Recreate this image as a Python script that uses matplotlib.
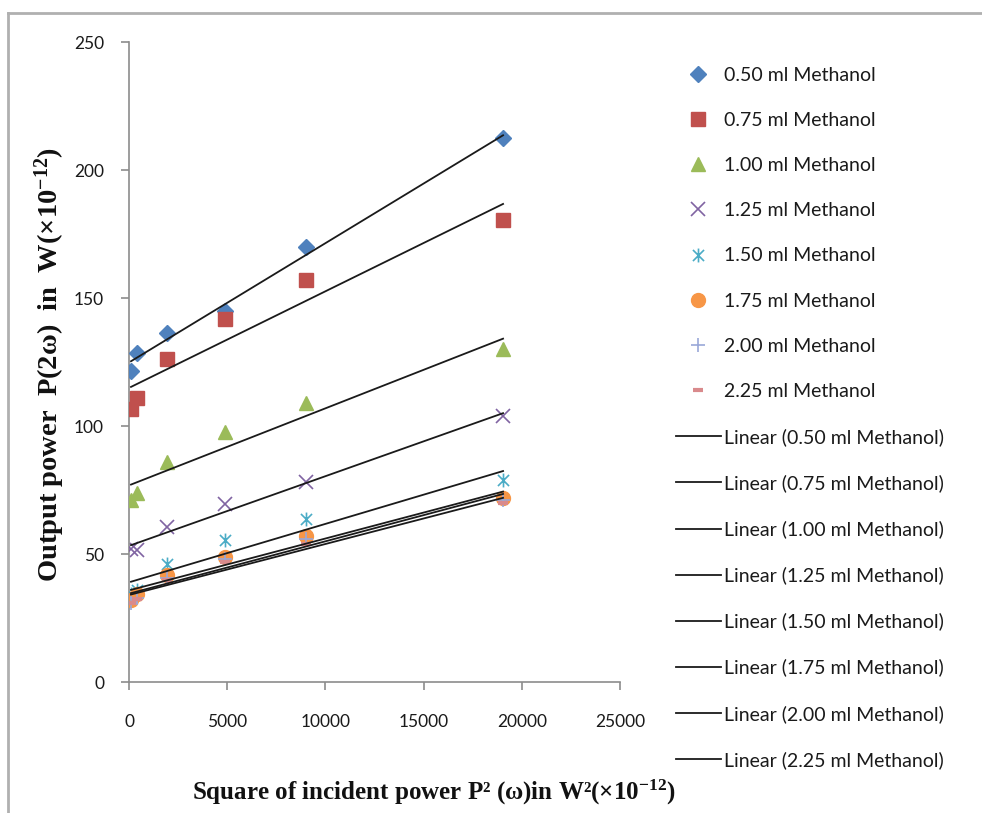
import numpy as np
import matplotlib
matplotlib.use('Agg')
import matplotlib.pyplot as plt
from matplotlib.path import Path
from matplotlib.lines import Line2D

plt.rcParams['font.family'] = ['Lato', 'DejaVu Sans']
plt.rcParams['mathtext.fontset'] = 'custom'
plt.rcParams['mathtext.rm'] = 'Liberation Serif:bold'
plt.rcParams['mathtext.default'] = 'rm'

# square of incident power, P^2 (x 10^-12 W^2)
p_squared = [100, 400, 1936, 4900, 9025, 19044]

labels = ['0.50 ml Methanol', '0.75 ml Methanol', '1.00 ml Methanol',
          '1.25 ml Methanol', '1.50 ml Methanol', '1.75 ml Methanol',
          '2.00 ml Methanol', '2.25 ml Methanol']

# output power P(2w) (x 10^-12 W), one list per methanol volume
out_050 = [121.5, 128.5, 136.5, 145.0, 170.0, 212.5]
out_075 = [106.5, 111.0, 126.0, 142.0, 157.0, 180.5]
out_100 = [71.0, 74.0, 86.0, 97.5, 109.0, 130.0]
out_125 = [52.0, 51.5, 60.5, 69.5, 78.0, 104.0]
out_150 = [34.5, 36.0, 46.0, 55.5, 63.5, 79.0]
out_175 = [32.0, 34.5, 42.0, 49.0, 57.0, 72.0]
out_200 = [31.0, 33.0, 40.5, 48.0, 56.0, 71.0]
out_225 = [31.0, 32.5, 40.0, 47.0, 54.0, 70.0]

series = [out_050, out_075, out_100, out_125, out_150, out_175, out_200, out_225]

# excel-like asterisk: X plus a vertical bar
star_path = Path([(-1, -1), (1, 1), (-1, 1), (1, -1), (0, -1.25), (0, 1.25)],
                 [Path.MOVETO, Path.LINETO, Path.MOVETO, Path.LINETO,
                  Path.MOVETO, Path.LINETO])

styles = [
    dict(marker='D', color='#4F81BD', ms=8.5),
    dict(marker='s', color='#C0504D', ms=10),
    dict(marker='^', color='#9BBB59', ms=10),
    dict(marker='x', color='#8064A2', ms=10, mew=1.2),
    dict(marker=star_path, color='#4BACC6', ms=10, mew=1.2),
    dict(marker='o', color='#F79646', ms=10),
    dict(marker='+', color='#9AA8D8', ms=10, mew=1.2),
    dict(marker='_', color='#D98A8C', ms=7, mew=3),
]

fig = plt.figure(figsize=(9.82, 8.13), dpi=100)
ax = fig.add_axes([0.1314, 0.1611, 0.5, 0.7872])

x = np.asarray(p_squared, dtype=float)
marker_handles = []
for ys, st in zip(series, styles):
    h, = ax.plot(x, ys, linestyle='none', marker=st['marker'], color=st['color'],
                 markersize=st['ms'], markeredgewidth=st.get('mew', 1.0),
                 markeredgecolor=st['color'], zorder=3)
    marker_handles.append(h)

trend_handles = []
for ys in series:
    k, b = np.polyfit(x, ys, 1)
    xs = np.array([x[0], x[-1]])
    h, = ax.plot(xs, k * xs + b, color='#1a1a1a', lw=1.3, zorder=4)
    trend_handles.append(h)

ax.set_xlim(0, 25000)
ax.set_ylim(0, 250)
ax.set_xticks(np.arange(0, 25001, 5000))
ax.set_yticks(np.arange(0, 251, 50))

for side in ['top', 'right']:
    ax.spines[side].set_visible(False)
for side in ['left', 'bottom']:
    ax.spines[side].set_color('#8c8c8c')
    ax.spines[side].set_linewidth(1.2)

ax.tick_params(axis='both', colors='#8c8c8c', labelcolor='#1a1a1a', labelsize=12.5,
               length=6, width=1.2, direction='out')
ax.tick_params(axis='y', pad=12)
ax.tick_params(axis='x', pad=17)

fig.text(0.051, 0.551, r'Output power  P(2ω)  in  W(×10$^{-12}$)', rotation=90,
         family='Liberation Serif', weight='bold', fontsize=20.5,
         ha='center', va='center', color='#111111')
fig.text(0.442, 0.025, r'Square of incident power P² (ω)in W²(×10$^{-12}$)',
         family='Liberation Serif', weight='bold', fontsize=18,
         ha='center', va='center', color='#111111')

leg = fig.legend(marker_handles + trend_handles,
                 labels + ['Linear ({})'.format(l) for l in labels],
                 loc='upper left', bbox_to_anchor=(0.688, 0.918), frameon=False,
                 fontsize=14, handlelength=2.35, handletextpad=0.15,
                 labelspacing=1.45, borderpad=0, borderaxespad=0, numpoints=1)
for t in leg.get_texts():
    t.set_color('#1a1a1a')

# outer chart frame (only top and left edges visible in the crop)
fig.add_artist(Line2D([0.0085, 0.0085], [0.0, 0.984], transform=fig.transFigure,
                      color='#b0b0b0', lw=2))
fig.add_artist(Line2D([0.0085, 1.0], [0.984, 0.984], transform=fig.transFigure,
                      color='#b0b0b0', lw=2))

fig.savefig('out.png', dpi=100)
